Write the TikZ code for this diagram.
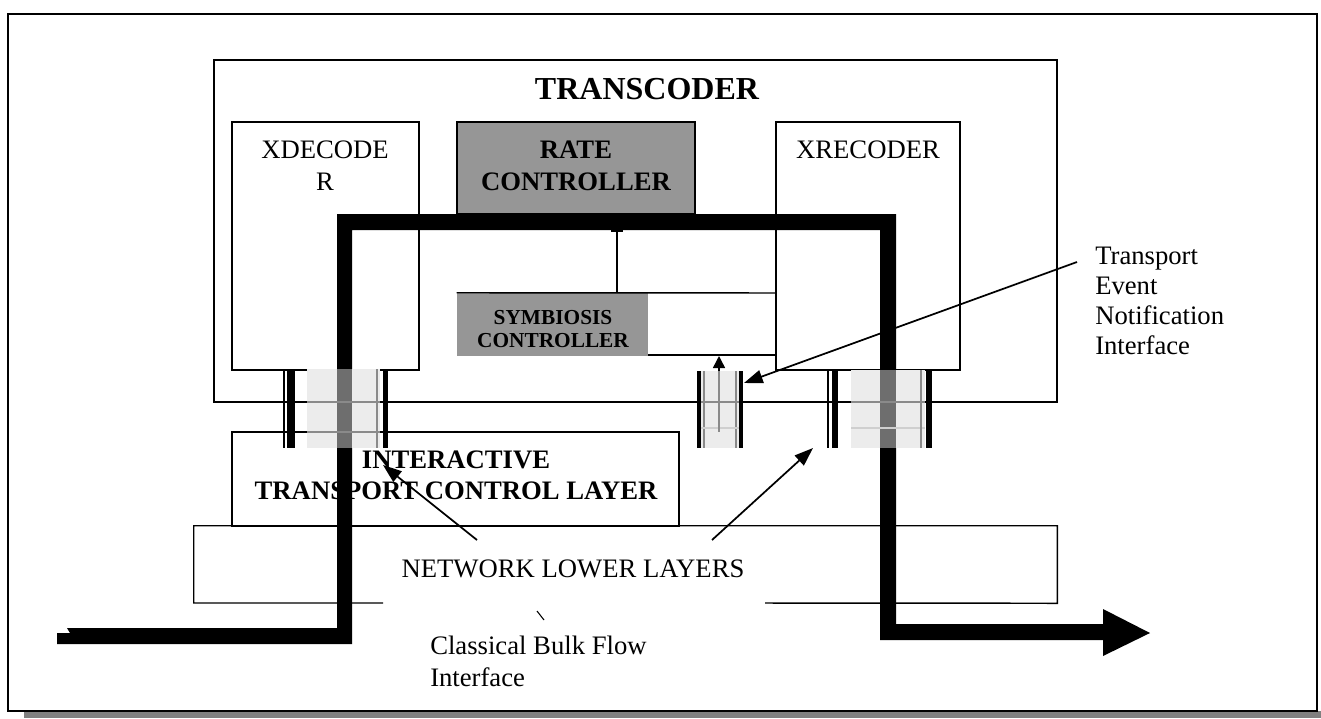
\documentclass[tikz,border=0pt]{standalone}
\usepackage{fontspec}
\setmainfont{Liberation Serif}
\usetikzlibrary{fit,arrows.meta}
\definecolor{boxgray}{HTML}{969696}
\definecolor{shadowgray}{HTML}{808080}
\definecolor{ovgray}{HTML}{ECECEC}
\definecolor{bandgray}{HTML}{6E6E6E}
\definecolor{midgray}{HTML}{8A8A8A}
\begin{document}
\begin{tikzpicture}[x=0.75pt,y=-0.75pt, line join=miter,
  box/.style={draw=black, line width=1.1pt, inner sep=0pt},
  gfill/.style={fill=boxgray, inner sep=0pt},
  lbl/.style={inner sep=0pt, align=center, font=\fontsize{20}{24}\selectfont},
  blbl/.style={inner sep=0pt, align=center, font=\fontsize{20}{23}\selectfont\bfseries},
  boxline/.style={line width=1.1pt},
  arr/.style={line width=1.3pt, -{Triangle[length=14pt,width=10pt]}},
  sarr/.style={line width=1.1pt, -{Triangle[length=9pt,width=9pt]}},
  overlay/.style={fill=ovgray},
  gline/.style={midgray, line width=1pt},
  bar/.style={fill=black}
]
\useasboundingbox (0,0) rectangle (1321,718);
% shadow and frame
\fill[shadowgray] (24,711) rectangle (1321,718);
\node[draw=black, line width=1.6pt, inner sep=0pt, fit={(8,14) (1317,711)}] (frame) {};

% boxes
\node[box, fill=white, fit={(214,60) (1057,402)}] (transcoder) {};
\node[box, fit={(232,122) (419,370)}] (xdec) {};
\node[box, fill=boxgray, fit={(457,122) (695,214)}] (rate) {};
\node[box, fit={(776,122) (960,370)}] (xrec) {};
\node[box, fit={(232,432) (679,526)}] (itcl) {};
\node[inner sep=0pt, fit={(194,526) (1057,603)}] (net) {};
\draw[boxline] (383,603) -| (net.north west) -| (net.south east) -- (765,603);

% symbiosis controller
\node[gfill, fit={(457,293) (648,356)}] (sym) {};
\coordinate (symtop) at (617,293);
\coordinate (symright) at (776,293);
\coordinate (symbotA) at (648,355);
\coordinate (symbotB) at (776,355);
\draw[boxline] (sym.north west) -- (symright);
\draw[boxline] (symbotA) -- (symbotB);
\coordinate (tick) at (617,231);
\draw[boxline] (tick) -- (symtop);
\draw[line width=1.6pt] (611,231) -- (623,231);

% texts
\node[blbl, font=\fontsize{24}{28}\selectfont\bfseries] (tctitle) at (647,89) {TRANSCODER};
\node[lbl] (xdectext) at (325,166) {XDECODE\\R};
\node[blbl, font=\fontsize{20}{24}\selectfont\bfseries] (ratetext) at (576,166) {RATE\\CONTROLLER};
\node[lbl] (xrectext) at (868,150) {XRECODER};
\node[blbl, font=\fontsize{16}{17}\selectfont\bfseries] (symtext) at (553,329) {SYMBIOSIS\\CONTROLLER};
\node[blbl] (itcltext) at (456,475) {INTERACTIVE\\TRANSPORT CONTROL LAYER};
\node[lbl] (netlabel) at (573,569) {NETWORK LOWER LAYERS};
\node[lbl, align=left, anchor=north west, font=\fontsize{20}{22.5}\selectfont] (tenlabel) at (1095,247) {Transport\\Event\\Notification\\Interface};
\node[lbl, align=left, anchor=north west, font=\fontsize{20}{24}\selectfont] (cbflabel) at (430,636) {Classical Bulk Flow\\Interface};

% thick flow band
\fill[black] (57,644) -- (352,644) -- (352,230) -- (880,230) -- (880,640) -- (1103,640)
  -- (1103,656) -- (1150,633) -- (1103,609) -- (1103,624) -- (896,624) -- (896,214)
  -- (337,214) -- (337,628) -- (67,628) -- (70,633) -- (57,633) -- cycle;

% arrow up into symbiosis controller
\coordinate (upfrom) at (719,432);
\coordinate (upto) at (719,356);
\draw[sarr] (upfrom) -- (upto);

% left interface
\draw[line width=0.8pt] (284,369) -- (284,448);
\fill[bar] (287,369) rectangle (295,448);
\fill[overlay] (307,369) rectangle (380,448);
\fill[bandgray] (337,369) rectangle (352,448);
\draw[gline] (307,402) -- (380,402);
\draw[gline] (307,432) -- (380,432);
\draw[gline] (377,369) -- (377,448);
\fill[bar] (383,369) rectangle (388,448);

% right interface
\draw[line width=0.8pt] (828,370) -- (828,448);
\fill[bar] (832,370) rectangle (838,448);
\fill[overlay] (851,370) rectangle (925,448);
\fill[bandgray] (880,370) rectangle (896,448);
\draw[gline] (851,402) -- (925,402);
\draw[gline, ovgray!70!midgray] (851,428) -- (925,428);
\draw[gline] (921,370) -- (921,448);
\fill[bar] (926,370) rectangle (932,448);

% middle interface (transport event notification)
\fill[bar] (697,371) rectangle (701,448);
\fill[overlay] (701,371) rectangle (739,448);
\draw[gline] (704,371) -- (704,448);
\draw[gline] (736,371) -- (736,448);
\draw[gline] (701,402) -- (739,402);
\draw[gline, ovgray!70!midgray] (701,428) -- (739,428);
\draw[gline] (719,371) -- (upfrom);
\fill[bar] (739,371) rectangle (743,448);
\coordinate (tentip) at (744,383);

% leader arrows
\coordinate (netA) at (477,540);
\coordinate (netB) at (712,540);
\coordinate (itcltip) at (383,465);
\coordinate (rbtip) at (813,448);
\draw[arr] (netA) -- (itcltip);
\draw[arr] (netB) -- (rbtip);
\coordinate (tenfrom) at (1077,262);
\draw[arr] (tenfrom) -- (tentip);
\coordinate (cbfA) at (537,611);
\coordinate (cbfB) at (544,620);
\draw[line width=0.8pt] (cbfA) -- (cbfB);
\end{tikzpicture}
\end{document}
